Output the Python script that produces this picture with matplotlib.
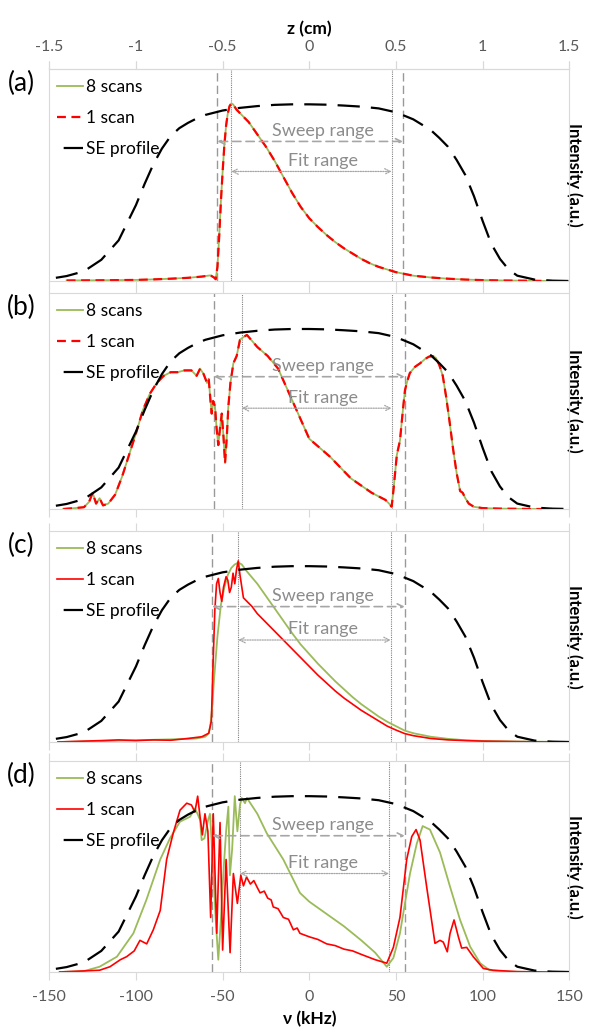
import matplotlib.pyplot as plt

plt.rcParams['font.family'] = ['Lato', 'DejaVu Sans']
plt.rcParams['axes.unicode_minus'] = False

GREEN = '#9bbb59'
RED = '#ff0000'
GREY = '#808080'
LIGHT = '#d9d9d9'
TXT = '#595959'

# spin-echo reference profile (same in every panel)
se_nu = [-150, -140, -130, -120, -110, -100, -95, -90, -85, -80,
         -75, -70, -65, -60, -50, -40, -30, -20, -10, 0,
         10, 20, 30, 40, 50, 60, 65, 70, 75, 80,
         85, 90, 95, 100, 105, 110, 115, 120, 130, 140, 150]
se_y = [0.012, 0.028, 0.055, 0.12, 0.23, 0.43, 0.55, 0.66, 0.75, 0.82,
        0.865, 0.895, 0.92, 0.94, 0.965, 0.98, 0.99, 0.997, 1.0, 1.0,
        0.998, 0.993, 0.987, 0.977, 0.955, 0.915, 0.885, 0.855, 0.81, 0.76,
        0.685, 0.60, 0.48, 0.34, 0.21, 0.125, 0.065, 0.03, 0.008, 0.002, 0.0]

# (a)
a_nu = [-140, -120, -100, -90, -80, -70, -62, -57, -55, -54,
        -53, -52, -51, -50, -49, -48, -47, -46, -45, -44,
        -42, -40, -35, -30, -25, -20, -15, -10, -5, 0,
        5, 10, 15, 20, 25, 30, 35, 40, 45, 50,
        55, 60, 70, 80, 90, 100, 110, 120, 130, 140]
a_8 = [0.003, 0.004, 0.006, 0.009, 0.013, 0.018, 0.025, 0.032, 0.02, 0.01,
       0.08, 0.25, 0.45, 0.62, 0.77, 0.88, 0.95, 0.99, 1.005, 1.0,
       0.97, 0.95, 0.90, 0.83, 0.76, 0.68, 0.59, 0.50, 0.42, 0.355,
       0.305, 0.26, 0.22, 0.185, 0.155, 0.125, 0.10, 0.08, 0.065, 0.05,
       0.04, 0.03, 0.02, 0.013, 0.008, 0.005, 0.003, 0.002, 0.001, 0.0]
a_1 = a_8
a_sweep = [-53, 54]
a_fit = [-45, 47.5]

# (b)
b_nu = [-142, -135, -130, -127, -125, -123, -121, -119, -116, -112,
        -108, -104, -100, -96, -92, -88, -84, -80, -76, -72,
        -68, -65, -63, -61, -59, -58, -57, -56.3, -55.5, -54.4,
        -53.5, -52.5, -51.5, -50.5, -49.5, -48.6, -47.6, -46.7, -45.5, -43.8,
        -41.9, -40, -38, -36, -30, -24, -18, -12, -6, 0,
        6, 12, 18, 24, 30, 36, 40, 44, 46, 47.5,
        48.5, 49.5, 50.5, 52.3, 54, 55.2, 56.5, 58, 61, 64,
        67, 69, 71, 73, 75, 77, 79, 81, 83, 85,
        87, 88.5, 90, 92, 95, 100, 110, 120, 130, 140]
b_8 = [0.0, 0.005, 0.01, 0.04, 0.09, 0.03, 0.06, 0.02, 0.03, 0.08,
       0.18, 0.3, 0.42, 0.55, 0.64, 0.70, 0.74, 0.76, 0.76, 0.77,
       0.77, 0.74, 0.78, 0.75, 0.70, 0.72, 0.6, 0.53, 0.6, 0.57,
       0.45, 0.355, 0.45, 0.53, 0.4, 0.255, 0.4, 0.57, 0.7, 0.81,
       0.85, 0.94, 0.955, 0.967, 0.90, 0.85, 0.78, 0.65, 0.52, 0.39,
       0.34, 0.29, 0.23, 0.17, 0.13, 0.09, 0.07, 0.05, 0.03, 0.013,
       0.1, 0.2, 0.3, 0.38, 0.55, 0.66, 0.71, 0.755, 0.79, 0.81,
       0.835, 0.846, 0.85, 0.84, 0.80, 0.74, 0.62, 0.48, 0.33, 0.2,
       0.1, 0.09, 0.06, 0.03, 0.012, 0.005, 0.002, 0.001, 0.0, 0.0]
b_1 = b_8
b_sweep = [-55, 55]
b_fit = [-39, 47.5]

# (c)
c_nu8 = [-145, -120, -100, -80, -65, -60, -58, -57, -56, -55,
         -53, -51, -49, -47, -45, -43, -41, -39, -36, -30,
         -25, -20, -15, -10, -5, 0, 5, 10, 15, 20,
         25, 30, 35, 40, 45, 50, 55, 60, 70, 80,
         90, 100, 120, 140]
c_8 = [0.0, 0.005, 0.01, 0.015, 0.02, 0.03, 0.05, 0.1, 0.2, 0.35,
       0.6, 0.78, 0.88, 0.95, 0.99, 1.01, 1.02, 1.01, 0.97, 0.9,
       0.83, 0.76, 0.69, 0.62, 0.555, 0.5, 0.445, 0.395, 0.345, 0.3,
       0.255, 0.215, 0.18, 0.145, 0.115, 0.09, 0.065, 0.05, 0.03, 0.018,
       0.01, 0.006, 0.003, 0.001]
c_nu1 = [-145, -130, -120, -110, -100, -90, -80, -70, -62, -58,
         -56.5, -55.5, -54.5, -53.5, -52.5, -51.5, -50.5, -49.5, -48, -47,
         -46, -45, -44, -43, -42, -41, -40, -38, -36, -33,
         -30, -27, -24, -20, -16, -12, -8, -4, 0, 5,
         10, 15, 20, 25, 30, 35, 40, 45, 50, 55,
         60, 70, 80, 90, 100, 120, 140]
c_1 = [0.0, 0.005, 0.008, 0.012, 0.008, 0.012, 0.01, 0.02, 0.03, 0.05,
       0.12, 0.45, 0.75, 0.9, 0.93, 0.85, 0.8, 0.88, 0.94, 0.92,
       0.85, 0.88, 0.96, 0.9, 0.98, 1.03, 0.95, 0.82, 0.8, 0.77,
       0.73, 0.70, 0.67, 0.63, 0.59, 0.55, 0.51, 0.47, 0.43, 0.38,
       0.335, 0.29, 0.25, 0.215, 0.18, 0.15, 0.12, 0.09, 0.068, 0.048,
       0.036, 0.02, 0.012, 0.008, 0.005, 0.002, 0.0]
c_sweep = [-56, 55]
c_fit = [-41, 47]

# (d)
d_nu8 = [-144, -130, -121, -111, -101.5, -94, -86, -80.4, -74.6, -68.8,
         -66, -64.5, -63, -62.1, -60.5, -58.5, -57.3, -55.5, -54, -52.5,
         -51, -49.6, -48, -46.7, -45.8, -44.5, -43, -41.5, -40, -39,
         -37.1, -36, -30, -24.6, -15, -5.4, 0, 10, 20, 30,
         38, 44.7, 48.5, 52.3, 55, 58.1, 62, 65.4, 69.6, 75.4,
         81.2, 87, 92.8, 98.6, 104, 115, 130]
d_8 = [0.0, 0.005, 0.03, 0.087, 0.22, 0.41, 0.64, 0.76, 0.855, 0.883,
       0.93, 0.9, 0.864, 0.75, 0.76, 0.86, 0.9, 0.6, 0.3, 0.07,
       0.3, 0.56, 0.8, 0.94, 0.55, 0.7, 1.0, 0.8, 0.95, 0.99,
       0.96, 0.99, 0.9, 0.79, 0.64, 0.45, 0.4, 0.33, 0.26, 0.18,
       0.11, 0.03, 0.08, 0.22, 0.38, 0.56, 0.73, 0.83, 0.81, 0.68,
       0.485, 0.296, 0.144, 0.05, 0.01, 0.002, 0.0]
d_nu1 = [-144, -121, -115, -109, -105.4, -101, -97.7, -93.8, -90, -86,
         -82.3, -78.5, -74.6, -70.7, -68, -66, -64.4, -63, -61.7, -60.2,
         -58.5, -56.9, -55.4, -53.4, -51.5, -50, -48, -45.7, -43.8, -41.5,
         -39.5, -38, -36.2, -34, -32, -30, -28.4, -26, -24, -22,
         -20.8, -18, -15, -12, -9.2, -7, -5.4, 0, 5, 10,
         15, 20, 25, 30, 38, 44.7, 48.5, 52.3, 56.2, 59.1,
         61.6, 63.9, 67.7, 72.5, 75.4, 77.3, 79.6, 81.2, 83.5, 86,
         87.9, 90.8, 94.6, 100.4, 106, 120, 140]
d_1 = [0.0, 0.01, 0.03, 0.07, 0.087, 0.12, 0.18, 0.16, 0.24, 0.35,
       0.64, 0.79, 0.92, 0.96, 0.95, 0.91, 1.0, 0.88, 0.78, 0.9,
       0.8, 0.31, 0.9, 0.22, 0.85, 0.125, 0.64, 0.11, 0.56, 0.39,
       0.55, 0.49, 0.54, 0.5, 0.52, 0.48, 0.45, 0.46, 0.42, 0.41,
       0.37, 0.36, 0.31, 0.3, 0.24, 0.25, 0.22, 0.2, 0.185, 0.16,
       0.15, 0.13, 0.12, 0.1, 0.07, 0.05, 0.14, 0.31, 0.64, 0.77,
       0.81, 0.75, 0.485, 0.163, 0.18, 0.17, 0.115, 0.22, 0.296, 0.2,
       0.136, 0.14, 0.087, 0.02, 0.01, 0.002, 0.0]
d_sweep = [-56, 55]
d_fit = [-40, 46]

nu_ticks = [-150, -100, -50, 0, 50, 100, 150]
z_ticks = [-1.5, -1, -0.5, 0, 0.5, 1, 1.5]
z_labels = ['-1.5', '-1', '-0.5', '0', '0.5', '1', '1.5']

panels = [
    dict(tag='(a)', nu8=a_nu, y8=a_8, nu1=a_nu, y1=a_1, dash1=True,
         sweep=a_sweep, fit=a_fit, box=[69, 281], arr=(0.79, 0.62)),
    dict(tag='(b)', nu8=b_nu, y8=b_8, nu1=b_nu, y1=b_1, dash1=True,
         sweep=b_sweep, fit=b_fit, box=[293, 509], arr=(0.735, 0.56)),
    dict(tag='(c)', nu8=c_nu8, y8=c_8, nu1=c_nu1, y1=c_1, dash1=False,
         sweep=c_sweep, fit=c_fit, box=[531, 742], arr=(0.77, 0.58)),
    dict(tag='(d)', nu8=d_nu8, y8=d_8, nu1=d_nu1, y1=d_1, dash1=False,
         sweep=d_sweep, fit=d_fit, box=[761, 972], arr=(0.775, 0.56)),
]

W, H = 594, 1035
fig = plt.figure(figsize=(W / 100, H / 100), dpi=100)

for i, p in enumerate(panels):
    top, bot = p['box']
    ax = fig.add_axes([49.3 / W, 1 - bot / H, 520 / W, (bot - top) / H])
    ax.set_xlim(-150, 150)
    ax.set_ylim(0, 1.2)
    ax.set_yticks([])
    ax.set_xticks(nu_ticks)
    for s in ax.spines.values():
        s.set_color(LIGHT)
    ax.tick_params(axis='x', direction='out', length=6, color=LIGHT,
                   top=True, bottom=True, labelbottom=(i == 3),
                   labelsize=11.5, labelcolor=TXT, pad=7)

    # sweep / fit limits
    for x in p['sweep']:
        ax.axvline(x, color='#999999', lw=1, ls=(0, (6, 3)))
    for x in p['fit']:
        ax.axvline(x, color=GREY, lw=0.8, ls=(0, (1, 1)))

    ax.plot(p['nu8'], p['y8'], color=GREEN, lw=1.3, label='8 scans')
    if p['dash1']:
        ax.plot(p['nu1'], p['y1'], color=RED, lw=1.6, ls=(0, (4, 2.5)), label='1 scan')
    else:
        ax.plot(p['nu1'], p['y1'], color=RED, lw=1.2, label='1 scan')
    ax.plot(se_nu, se_y, color='black', lw=1.6, ls=(12, (10, 5)), label='SE profile')

    ya, yb = p['arr']
    ax.annotate('', xy=(p['sweep'][1], ya), xytext=(p['sweep'][0], ya),
                arrowprops=dict(arrowstyle='<->', color='#a6a6a6', lw=1.2,
                                ls=(0, (5, 3)), shrinkA=0, shrinkB=0))
    ax.annotate('', xy=(p['fit'][1], yb), xytext=(p['fit'][0], yb),
                arrowprops=dict(arrowstyle='<->', color='#a6a6a6', lw=0.9,
                                ls=(0, (1, 1)), shrinkA=0, shrinkB=0))
    ax.text(8, ya + 0.015, 'Sweep range', color='#8c8c8c', fontsize=13,
            ha='center', va='bottom')
    ax.text(8, yb + 0.015, 'Fit range', color='#8c8c8c', fontsize=13,
            ha='center', va='bottom')

    ax.legend(loc='upper left', bbox_to_anchor=(-0.005, 1.0), frameon=False,
              fontsize=12.5, handlelength=1.5, handletextpad=0.15,
              labelspacing=0.85, borderaxespad=0.2)

    ax.set_ylabel('Intensity (a.u.)', fontsize=12, fontweight='bold',
                  rotation=270, va='center')
    ax.yaxis.set_label_position('right')
    ax.yaxis.set_label_coords(1.025, 0.5)

    fig.text(21 / W, 1 - (top + 14) / H, p['tag'], fontsize=19,
             ha='center', va='center')

    if i == 0:
        sec = ax.secondary_xaxis('top', functions=(lambda v: v / 100, lambda z: z * 100))
        sec.set_xticks(z_ticks)
        sec.set_xticklabels(z_labels)
        sec.spines['top'].set_color(LIGHT)
        sec.tick_params(direction='out', length=6, color=LIGHT,
                        labelsize=11.5, labelcolor=TXT, pad=5)
        sec.set_xlabel('z (cm)', fontsize=12.5, fontweight='bold', labelpad=4)
    if i == 3:
        ax.set_xlabel('ν (kHz)', fontsize=12.5, fontweight='bold', labelpad=5)

fig.savefig('out.png', dpi=100)
